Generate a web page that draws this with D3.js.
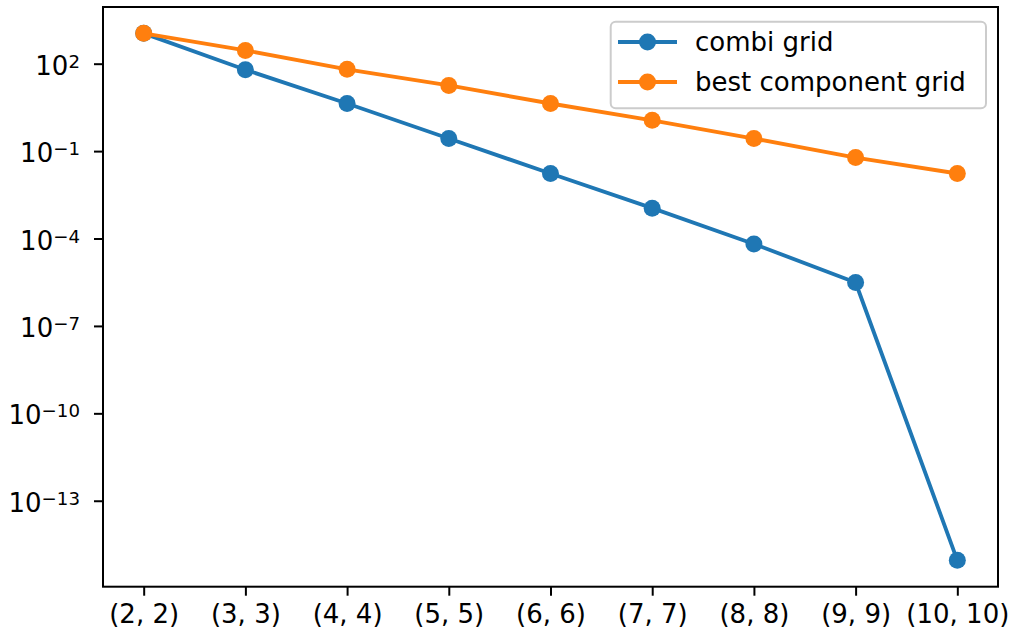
<!DOCTYPE html>
<html>
<head>
<meta charset="utf-8">
<script src="https://cdn.jsdelivr.net/npm/d3@7"></script>
<style>
  html, body { margin: 0; padding: 0; background: #ffffff; }
  svg { display: block; }
  text { font-family: "DejaVu Sans", sans-serif; fill: #000; }
</style>
</head>
<body>
<svg id="chart" width="1011" height="635"></svg>
<script>
// Grid levels along the x axis
const categories = ["(2, 2)", "(3, 3)", "(4, 4)", "(5, 5)", "(6, 6)", "(7, 7)", "(8, 8)", "(9, 9)", "(10, 10)"];

// Error of the combination-technique solution per level
const combiGrid = [1100, 62, 4.3, 0.27, 0.017, 1.1e-3, 6.5e-5, 3.1e-6, 9e-16];

// Error of the best single component grid per level
const bestComponentGrid = [1100, 286, 64, 18, 4.3, 1.14, 0.27, 0.060, 0.017];

// Exponents shown on the logarithmic y axis
const yTickExponents = [2, -1, -4, -7, -10, -13];

const seriesNames = ["combi grid", "best component grid"];
const seriesColors = ["#1f77b4", "#ff7f0e"];

const svg = d3.select("#chart");
const plotLeft = 103, plotRight = 998, plotTop = 7, plotBottom = 586.7;
const fontSize = 26;
const markerR = 8.5;

// x: categorical points with 5% padding on each side
const xPad = (plotRight - plotLeft) * 0.05 / 1.1;
const x = d3.scalePoint().domain(categories).range([plotLeft + xPad, plotRight - xPad]);

// y: log scale with 5% margins in log space
const all = combiGrid.concat(bestComponentGrid);
const lmin = Math.log10(d3.min(all)), lmax = Math.log10(d3.max(all));
const m = (lmax - lmin) * 0.05;
const y = d3.scaleLog().domain([Math.pow(10, lmin - m), Math.pow(10, lmax + m)]).range([plotBottom, plotTop]);

// Series
const series = [combiGrid, bestComponentGrid];
const line = d3.line().x((d, i) => x(categories[i])).y(d => y(d));
series.forEach((vals, k) => {
  const g = svg.append("g");
  g.append("path").datum(vals)
    .attr("d", line)
    .attr("fill", "none")
    .attr("stroke", seriesColors[k])
    .attr("stroke-width", 3.85)
    .attr("stroke-linejoin", "round");
  g.selectAll("circle").data(vals).enter().append("circle")
    .attr("cx", (d, i) => x(categories[i]))
    .attr("cy", d => y(d))
    .attr("r", markerR)
    .attr("fill", seriesColors[k]);
});

// Frame
svg.append("rect")
  .attr("x", plotLeft).attr("y", plotTop)
  .attr("width", plotRight - plotLeft).attr("height", plotBottom - plotTop)
  .attr("fill", "none").attr("stroke", "#000").attr("stroke-width", 2);

// x axis
const xAxis = svg.append("g")
  .attr("transform", `translate(0,${plotBottom})`)
  .call(d3.axisBottom(x).tickSize(9).tickPadding(0).tickSizeOuter(0));
xAxis.select(".domain").remove();
xAxis.selectAll(".tick line").attr("stroke", "#000").attr("stroke-width", 2);
xAxis.selectAll(".tick text")
  .attr("y", 623.5 - plotBottom).attr("dy", null)
  .style("font-size", fontSize + "px")
  .style("font-family", "'DejaVu Sans', sans-serif")
  .attr("fill", "#000");

// y axis with power-of-ten labels
const yAxis = svg.append("g")
  .attr("transform", `translate(${plotLeft},0)`)
  .call(d3.axisLeft(y)
    .tickValues(yTickExponents.map(e => Math.pow(10, e)))
    .tickSize(9).tickSizeOuter(0).tickFormat(""));
yAxis.select(".domain").remove();
yAxis.selectAll(".tick line").attr("stroke", "#000").attr("stroke-width", 2);
yAxis.selectAll(".tick").each(function(d) {
  const e = Math.round(Math.log10(d));
  const t = d3.select(this).select("text")
    .attr("x", 80 - plotLeft).attr("dy", null).attr("y", 10.5)
    .attr("text-anchor", "end")
    .style("font-size", fontSize + "px")
    .style("font-family", "'DejaVu Sans', sans-serif")
    .attr("fill", "#000");
  t.text(null);
  t.append("tspan").text("10");
  t.append("tspan")
    .attr("dy", -7)
    .style("font-size", (fontSize * 0.7) + "px")
    .text(e < 0 ? "\u2212" + Math.abs(e) : String(e));
});

// Legend
const legend = svg.append("g");
legend.append("rect")
  .attr("x", 610.7).attr("y", 21.7)
  .attr("width", 375.3).attr("height", 86.6)
  .attr("rx", 5).attr("ry", 5)
  .attr("fill", "#fff").attr("fill-opacity", 0.8)
  .attr("stroke", "#cccccc").attr("stroke-width", 2);
seriesNames.forEach((name, k) => {
  const cy = 42 + k * 40;
  legend.append("line")
    .attr("x1", 618).attr("x2", 677).attr("y1", cy).attr("y2", cy)
    .attr("stroke", seriesColors[k]).attr("stroke-width", 3.85);
  legend.append("circle")
    .attr("cx", 647.5).attr("cy", cy).attr("r", markerR)
    .attr("fill", seriesColors[k]);
  legend.append("text")
    .attr("x", 695).attr("y", cy + 9)
    .style("font-size", fontSize + "px")
    .text(name);
});
</script>
</body>
</html>
